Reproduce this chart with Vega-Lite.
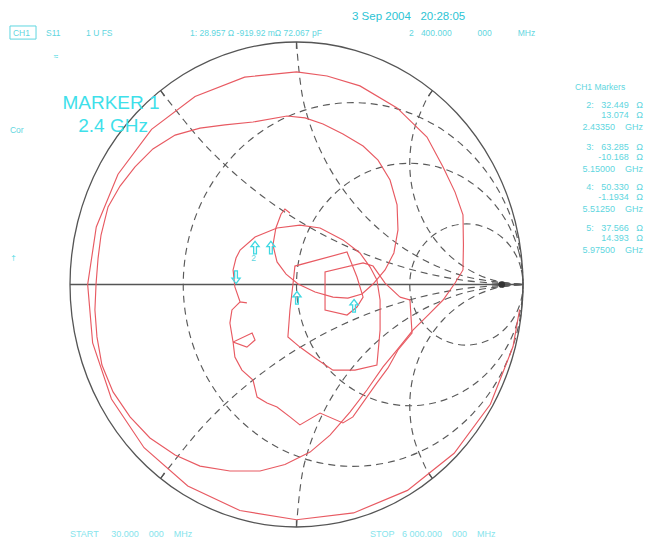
{
  "$schema": "https://vega.github.io/schema/vega-lite/v6.json",
  "width": 453,
  "height": 485,
  "autosize": {"type": "none"},
  "padding": {"left": 70, "top": 42, "right": 123, "bottom": 12},
  "background": "white",
  "config": {"view": {"stroke": null}, "font": "Liberation Sans"},
  "datasets": {
    "unit": [
      {"x": 1, "y": 0}, {"x": 0.9659, "y": 0.2588}, {"x": 0.866, "y": 0.5}, {"x": 0.7071, "y": 0.7071}, {"x": 0.5, "y": 0.866}, {"x": 0.2588, "y": 0.9659},
      {"x": 0, "y": 1}, {"x": -0.2588, "y": 0.9659}, {"x": -0.5, "y": 0.866}, {"x": -0.7071, "y": 0.7071}, {"x": -0.866, "y": 0.5}, {"x": -0.9659, "y": 0.2588},
      {"x": -1, "y": 0}, {"x": -0.9659, "y": -0.2588}, {"x": -0.866, "y": -0.5}, {"x": -0.7071, "y": -0.7071}, {"x": -0.5, "y": -0.866}, {"x": -0.2588, "y": -0.9659},
      {"x": 0, "y": -1}, {"x": 0.2588, "y": -0.9659}, {"x": 0.5, "y": -0.866}, {"x": 0.7071, "y": -0.7071}, {"x": 0.866, "y": -0.5}, {"x": 0.9659, "y": -0.2588}
    ],
    "rc": [
      {"c": "r0.33", "x": 1.0, "y": 0}, {"c": "r0.33", "x": 0.9744, "y": 0.1941}, {"c": "r0.33", "x": 0.8995, "y": 0.375}, {"c": "r0.33", "x": 0.7803, "y": 0.5303}, {"c": "r0.33", "x": 0.625, "y": 0.6495}, {"c": "r0.33", "x": 0.4441, "y": 0.7244},
      {"c": "r0.33", "x": 0.25, "y": 0.75}, {"c": "r0.33", "x": 0.0559, "y": 0.7244}, {"c": "r0.33", "x": -0.125, "y": 0.6495}, {"c": "r0.33", "x": -0.2803, "y": 0.5303}, {"c": "r0.33", "x": -0.3995, "y": 0.375}, {"c": "r0.33", "x": -0.4744, "y": 0.1941},
      {"c": "r0.33", "x": -0.5, "y": 0}, {"c": "r0.33", "x": -0.4744, "y": -0.1941}, {"c": "r0.33", "x": -0.3995, "y": -0.375}, {"c": "r0.33", "x": -0.2803, "y": -0.5303}, {"c": "r0.33", "x": -0.125, "y": -0.6495}, {"c": "r0.33", "x": 0.0559, "y": -0.7244},
      {"c": "r0.33", "x": 0.25, "y": -0.75}, {"c": "r0.33", "x": 0.4441, "y": -0.7244}, {"c": "r0.33", "x": 0.625, "y": -0.6495}, {"c": "r0.33", "x": 0.7803, "y": -0.5303}, {"c": "r0.33", "x": 0.8995, "y": -0.375}, {"c": "r0.33", "x": 0.9744, "y": -0.1941},
      {"c": "r1", "x": 1, "y": 0}, {"c": "r1", "x": 0.983, "y": 0.1294}, {"c": "r1", "x": 0.933, "y": 0.25}, {"c": "r1", "x": 0.8536, "y": 0.3536}, {"c": "r1", "x": 0.75, "y": 0.433}, {"c": "r1", "x": 0.6294, "y": 0.483},
      {"c": "r1", "x": 0.5, "y": 0.5}, {"c": "r1", "x": 0.3706, "y": 0.483}, {"c": "r1", "x": 0.25, "y": 0.433}, {"c": "r1", "x": 0.1464, "y": 0.3536}, {"c": "r1", "x": 0.067, "y": 0.25}, {"c": "r1", "x": 0.017, "y": 0.1294},
      {"c": "r1", "x": 0, "y": 0}, {"c": "r1", "x": 0.017, "y": -0.1294}, {"c": "r1", "x": 0.067, "y": -0.25}, {"c": "r1", "x": 0.1464, "y": -0.3536}, {"c": "r1", "x": 0.25, "y": -0.433}, {"c": "r1", "x": 0.3706, "y": -0.483},
      {"c": "r1", "x": 0.5, "y": -0.5}, {"c": "r1", "x": 0.6294, "y": -0.483}, {"c": "r1", "x": 0.75, "y": -0.433}, {"c": "r1", "x": 0.8536, "y": -0.3536}, {"c": "r1", "x": 0.933, "y": -0.25}, {"c": "r1", "x": 0.983, "y": -0.1294},
      {"c": "r3", "x": 1, "y": 0}, {"c": "r3", "x": 0.9915, "y": 0.0647}, {"c": "r3", "x": 0.9665, "y": 0.125}, {"c": "r3", "x": 0.9268, "y": 0.1768}, {"c": "r3", "x": 0.875, "y": 0.2165}, {"c": "r3", "x": 0.8147, "y": 0.2415},
      {"c": "r3", "x": 0.75, "y": 0.25}, {"c": "r3", "x": 0.6853, "y": 0.2415}, {"c": "r3", "x": 0.625, "y": 0.2165}, {"c": "r3", "x": 0.5732, "y": 0.1768}, {"c": "r3", "x": 0.5335, "y": 0.125}, {"c": "r3", "x": 0.5085, "y": 0.0647},
      {"c": "r3", "x": 0.5, "y": 0}, {"c": "r3", "x": 0.5085, "y": -0.0647}, {"c": "r3", "x": 0.5335, "y": -0.125}, {"c": "r3", "x": 0.5732, "y": -0.1768}, {"c": "r3", "x": 0.625, "y": -0.2165}, {"c": "r3", "x": 0.6853, "y": -0.2415},
      {"c": "r3", "x": 0.75, "y": -0.25}, {"c": "r3", "x": 0.8147, "y": -0.2415}, {"c": "r3", "x": 0.875, "y": -0.2165}, {"c": "r3", "x": 0.9268, "y": -0.1768}, {"c": "r3", "x": 0.9665, "y": -0.125}, {"c": "r3", "x": 0.9915, "y": -0.0647}
    ],
    "xa": [
      {"c": "x1", "x": 0, "y": 1}, {"c": "x1", "x": 0.0341, "y": 0.7412}, {"c": "x1", "x": 0.134, "y": 0.5}, {"c": "x1", "x": 0.2929, "y": 0.2929}, {"c": "x1", "x": 0.5, "y": 0.134}, {"c": "x1", "x": 0.7412, "y": 0.0341}, {"c": "x1", "x": 1, "y": 0},
      {"c": "x-1", "x": 0, "y": -1}, {"c": "x-1", "x": 0.0341, "y": -0.7412}, {"c": "x-1", "x": 0.134, "y": -0.5}, {"c": "x-1", "x": 0.2929, "y": -0.2929}, {"c": "x-1", "x": 0.5, "y": -0.134}, {"c": "x-1", "x": 0.7412, "y": -0.0341}, {"c": "x-1", "x": 1, "y": 0},
      {"c": "x0.5", "x": -0.6, "y": 0.8}, {"c": "x0.5", "x": -0.4142, "y": 0.5858}, {"c": "x0.5", "x": -0.2175, "y": 0.4133}, {"c": "x0.5", "x": 0, "y": 0.268}, {"c": "x0.5", "x": 0.2346, "y": 0.1522}, {"c": "x0.5", "x": 0.4824, "y": 0.0681}, {"c": "x0.5", "x": 0.739, "y": 0.0171}, {"c": "x0.5", "x": 1, "y": 0},
      {"c": "x-0.5", "x": -0.6, "y": -0.8}, {"c": "x-0.5", "x": -0.4142, "y": -0.5858}, {"c": "x-0.5", "x": -0.2175, "y": -0.4133}, {"c": "x-0.5", "x": 0, "y": -0.268}, {"c": "x-0.5", "x": 0.2346, "y": -0.1522}, {"c": "x-0.5", "x": 0.4824, "y": -0.0681}, {"c": "x-0.5", "x": 0.739, "y": -0.0171}, {"c": "x-0.5", "x": 1, "y": 0},
      {"c": "x2", "x": 0.6, "y": 0.8}, {"c": "x2", "x": 0.567, "y": 0.75}, {"c": "x2", "x": 0.517, "y": 0.6294}, {"c": "x2", "x": 0.5, "y": 0.5}, {"c": "x2", "x": 0.517, "y": 0.3706}, {"c": "x2", "x": 0.567, "y": 0.25}, {"c": "x2", "x": 0.6464, "y": 0.1464}, {"c": "x2", "x": 0.75, "y": 0.067}, {"c": "x2", "x": 0.8706, "y": 0.017}, {"c": "x2", "x": 1, "y": 0},
      {"c": "x-2", "x": 0.6, "y": -0.8}, {"c": "x-2", "x": 0.567, "y": -0.75}, {"c": "x-2", "x": 0.517, "y": -0.6294}, {"c": "x-2", "x": 0.5, "y": -0.5}, {"c": "x-2", "x": 0.517, "y": -0.3706}, {"c": "x-2", "x": 0.567, "y": -0.25}, {"c": "x-2", "x": 0.6464, "y": -0.1464}, {"c": "x-2", "x": 0.75, "y": -0.067}, {"c": "x-2", "x": 0.8706, "y": -0.017}, {"c": "x-2", "x": 1, "y": 0}
    ],
    "tk": [
      {"x": 0, "y": 1, "x2": 0, "y2": 0.972}, {"x": 0, "y": -1, "x2": 0, "y2": -0.972},
      {"x": -0.6, "y": 0.8, "x2": -0.583, "y2": 0.777}, {"x": -0.6, "y": -0.8, "x2": -0.583, "y2": -0.777},
      {"x": 0.6, "y": 0.8, "x2": 0.583, "y2": 0.777}, {"x": 0.6, "y": -0.8, "x2": 0.583, "y2": -0.777}
    ],
    "ax": [{"x": -1, "y": 0, "x2": 1, "y2": 0}],
    "tr": [
      {"s": "A", "x": 0.985, "y": -0.103}, {"s": "A", "x": 0.956, "y": -0.256}, {"s": "A", "x": 0.856, "y": -0.494}, {"s": "A", "x": 0.696, "y": -0.696}, {"s": "A", "x": 0.49, "y": -0.849},
      {"s": "A", "x": 0.252, "y": -0.942}, {"s": "A", "x": 0, "y": -0.97}, {"s": "A", "x": -0.25, "y": -0.932}, {"s": "A", "x": -0.48, "y": -0.831}, {"s": "A", "x": -0.673, "y": -0.673},
      {"s": "A", "x": -0.817, "y": -0.472}, {"s": "A", "x": -0.9, "y": -0.241}, {"s": "A", "x": -0.922, "y": 0}, {"s": "A", "x": -0.884, "y": 0.237}, {"s": "A", "x": -0.788, "y": 0.455},
      {"s": "A", "x": -0.64, "y": 0.64}, {"s": "A", "x": -0.448, "y": 0.775}, {"s": "A", "x": -0.229, "y": 0.855}, {"s": "A", "x": 0, "y": 0.877}, {"s": "A", "x": 0.135, "y": 0.86},
      {"s": "A", "x": 0.28, "y": 0.819}, {"s": "A", "x": 0.444, "y": 0.728}, {"s": "A", "x": 0.576, "y": 0.608}, {"s": "A", "x": 0.647, "y": 0.485}, {"s": "A", "x": 0.7, "y": 0.381},
      {"s": "A", "x": 0.735, "y": 0.287}, {"s": "A", "x": 0.737, "y": 0.163}, {"s": "A", "x": 0.735, "y": 0.06}, {"s": "A", "x": 0.7, "y": 0.006}, {"s": "A", "x": 0.647, "y": -0.064},
      {"s": "A", "x": 0.581, "y": -0.126}, {"s": "A", "x": 0.514, "y": -0.188}, {"s": "A", "x": 0.444, "y": -0.27}, {"s": "A", "x": 0.382, "y": -0.34}, {"s": "A", "x": 0.311, "y": -0.435},
      {"s": "A", "x": 0.236, "y": -0.526}, {"s": "A", "x": 0.148, "y": -0.621}, {"s": "A", "x": 0.06, "y": -0.691}, {"s": "A", "x": -0.051, "y": -0.742}, {"s": "A", "x": -0.161, "y": -0.769},
      {"s": "A", "x": -0.294, "y": -0.769}, {"s": "A", "x": -0.426, "y": -0.749}, {"s": "A", "x": -0.536, "y": -0.703}, {"s": "A", "x": -0.647, "y": -0.633}, {"s": "A", "x": -0.735, "y": -0.546},
      {"s": "A", "x": -0.81, "y": -0.443}, {"s": "A", "x": -0.859, "y": -0.332}, {"s": "A", "x": -0.881, "y": -0.216}, {"s": "A", "x": -0.89, "y": -0.105}, {"s": "A", "x": -0.885, "y": 0.002},
      {"s": "A", "x": -0.876, "y": 0.109}, {"s": "A", "x": -0.863, "y": 0.204}, {"s": "A", "x": -0.832, "y": 0.32}, {"s": "A", "x": -0.779, "y": 0.406}, {"s": "A", "x": -0.713, "y": 0.485},
      {"s": "A", "x": -0.634, "y": 0.559}, {"s": "A", "x": -0.536, "y": 0.616}, {"s": "A", "x": -0.426, "y": 0.645}, {"s": "A", "x": -0.316, "y": 0.658}, {"s": "A", "x": -0.192, "y": 0.67},
      {"s": "A", "x": -0.042, "y": 0.695}, {"s": "A", "x": 0.038, "y": 0.687}, {"s": "A", "x": 0.117, "y": 0.662}, {"s": "A", "x": 0.205, "y": 0.621}, {"s": "A", "x": 0.294, "y": 0.571},
      {"s": "A", "x": 0.36, "y": 0.513}, {"s": "A", "x": 0.413, "y": 0.431}, {"s": "A", "x": 0.444, "y": 0.328}, {"s": "A", "x": 0.448, "y": 0.225}, {"s": "A", "x": 0.43, "y": 0.13},
      {"s": "A", "x": 0.391, "y": 0.06}, {"s": "A", "x": 0.338, "y": 0.002}, {"s": "A", "x": 0.289, "y": -0.039}, {"s": "A", "x": 0.227, "y": -0.056}, {"s": "A", "x": 0.161, "y": -0.052},
      {"s": "A", "x": 0.082, "y": -0.031}, {"s": "A", "x": 0.007, "y": 0.002}, {"s": "A", "x": -0.046, "y": 0.043}, {"s": "A", "x": -0.086, "y": 0.093}, {"s": "A", "x": -0.104, "y": 0.163},
      {"s": "A", "x": -0.091, "y": 0.233}, {"s": "A", "x": -0.068, "y": 0.291}, {"s": "A", "x": -0.051, "y": 0.311}, {"s": "A", "x": -0.029, "y": 0.295},
      {"s": "B", "x": 0.457, "y": -0.052}, {"s": "B", "x": 0.501, "y": -0.064}, {"s": "B", "x": 0.51, "y": -0.2}, {"s": "B", "x": 0.448, "y": -0.27}, {"s": "B", "x": 0.404, "y": -0.344},
      {"s": "B", "x": 0.355, "y": -0.406}, {"s": "B", "x": 0.249, "y": -0.546}, {"s": "B", "x": 0.205, "y": -0.571}, {"s": "B", "x": 0.104, "y": -0.53}, {"s": "B", "x": 0.015, "y": -0.579},
      {"s": "B", "x": -0.029, "y": -0.546}, {"s": "B", "x": -0.086, "y": -0.505}, {"s": "B", "x": -0.13, "y": -0.489}, {"s": "B", "x": -0.174, "y": -0.464}, {"s": "B", "x": -0.192, "y": -0.394},
      {"s": "B", "x": -0.241, "y": -0.353}, {"s": "B", "x": -0.272, "y": -0.299}, {"s": "B", "x": -0.28, "y": -0.237}, {"s": "B", "x": -0.196, "y": -0.2}, {"s": "B", "x": -0.183, "y": -0.229},
      {"s": "B", "x": -0.219, "y": -0.258}, {"s": "B", "x": -0.28, "y": -0.237}, {"s": "B", "x": -0.294, "y": -0.159}, {"s": "B", "x": -0.285, "y": -0.105}, {"s": "B", "x": -0.249, "y": -0.072},
      {"s": "B", "x": -0.219, "y": -0.076}, {"s": "B", "x": -0.249, "y": -0.072}, {"s": "B", "x": -0.272, "y": -0.01}, {"s": "B", "x": -0.28, "y": 0.06}, {"s": "B", "x": -0.267, "y": 0.109},
      {"s": "B", "x": -0.249, "y": 0.142}, {"s": "B", "x": -0.183, "y": 0.196}, {"s": "B", "x": -0.086, "y": 0.233}, {"s": "B", "x": 0.015, "y": 0.245}, {"s": "B", "x": 0.104, "y": 0.233},
      {"s": "B", "x": 0.205, "y": 0.184}, {"s": "B", "x": 0.28, "y": 0.13}, {"s": "B", "x": 0.325, "y": 0.072}, {"s": "B", "x": 0.355, "y": 0.019}, {"s": "B", "x": 0.369, "y": -0.064},
      {"s": "B", "x": 0.369, "y": -0.188}, {"s": "B", "x": 0.355, "y": -0.332}, {"s": "B", "x": 0.258, "y": -0.353}, {"s": "B", "x": 0.161, "y": -0.353}, {"s": "B", "x": 0.082, "y": -0.303},
      {"s": "B", "x": 0.015, "y": -0.258}, {"s": "B", "x": -0.038, "y": -0.216}, {"s": "B", "x": -0.029, "y": -0.105}, {"s": "B", "x": -0.015, "y": 0.006}, {"s": "B", "x": -0.007, "y": 0.076},
      {"s": "B", "x": 0.223, "y": 0.134}, {"s": "B", "x": 0.267, "y": 0.031}, {"s": "B", "x": 0.294, "y": -0.052}, {"s": "B", "x": 0.267, "y": -0.093}, {"s": "B", "x": 0.223, "y": -0.126},
      {"s": "B", "x": 0.126, "y": -0.105}, {"s": "B", "x": 0.126, "y": 0.052}, {"s": "B", "x": 0.294, "y": 0.089}, {"s": "B", "x": 0.338, "y": 0.076}, {"s": "B", "x": 0.391, "y": 0.006},
      {"s": "B", "x": 0.457, "y": -0.052}
    ],
    "mu": [
      {"m": "2", "x": -0.183, "y": 0.152}, {"m": "5", "x": -0.113, "y": 0.152}, {"m": "4", "x": 0.002, "y": -0.055}, {"m": "3", "x": 0.254, "y": -0.088}
    ],
    "md": [{"m": "1", "x": -0.267, "y": 0.03}],
    "dot": [{"x": 0.906, "y": 0}],
    "box": [{"x": -1.265, "x2": -1.15, "y": 1.066, "y2": 1.012}],
    "tl": [
      {"x": -1.252, "y": 1.039, "t": "CH1"},
      {"x": -1.106, "y": 1.039, "t": "S11"},
      {"x": -0.929, "y": 1.039, "t": "1 U FS"},
      {"x": -0.47, "y": 1.039, "t": "1: 28.957 Ω -919.92 mΩ 72.067 pF"},
      {"x": 0.497, "y": 1.039, "t": "2\u00a0\u00a0\u00a0400.000\u00a0\u00a0\u00a0\u00a0\u00a0\u00a0\u00a0\u00a0\u00a0\u00a0\u00a0000\u00a0\u00a0\u00a0\u00a0\u00a0\u00a0\u00a0\u00a0\u00a0\u00a0\u00a0MHz"},
      {"x": 1.23, "y": 0.814, "t": "CH1 Markers"},
      {"x": -1.265, "y": 0.637, "t": "Cor"},
      {"x": -0.2, "y": 0.11, "t": "2"}
    ],
    "bot": [
      {"x": -1.0, "y": -1.027, "t": "START\u00a0\u00a0\u00a0\u00a0\u00a030.000\u00a0\u00a0\u00a0\u00a0000\u00a0\u00a0\u00a0\u00a0MHz"},
      {"x": 0.325, "y": -1.027, "t": "STOP\u00a0\u00a0\u00a06\u00a0000.000\u00a0\u00a0\u00a0\u00a0000\u00a0\u00a0\u00a0\u00a0MHz"}
    ],
    "tiny": [
      {"x": -1.062, "y": 0.938, "t": "≈"},
      {"x": -1.25, "y": 0.109, "t": "†"}
    ],
    "tr2": [
      {"x": 1.53, "y": 0.74, "t": "2:\u00a0\u00a0\u00a032.449\u00a0\u00a0\u00a0Ω"},
      {"x": 1.53, "y": 0.699, "t": "13.074\u00a0\u00a0\u00a0Ω"},
      {"x": 1.53, "y": 0.649, "t": "2.43350\u00a0\u00a0\u00a0\u00a0GHz"},
      {"x": 1.53, "y": 0.567, "t": "3:\u00a0\u00a0\u00a063.285\u00a0\u00a0\u00a0Ω"},
      {"x": 1.53, "y": 0.526, "t": "-10.168\u00a0\u00a0\u00a0Ω"},
      {"x": 1.53, "y": 0.476, "t": "5.15000\u00a0\u00a0\u00a0\u00a0GHz"},
      {"x": 1.53, "y": 0.402, "t": "4:\u00a0\u00a0\u00a050.330\u00a0\u00a0\u00a0Ω"},
      {"x": 1.53, "y": 0.361, "t": "-1.1934\u00a0\u00a0\u00a0Ω"},
      {"x": 1.53, "y": 0.311, "t": "5.51250\u00a0\u00a0\u00a0\u00a0GHz"},
      {"x": 1.53, "y": 0.233, "t": "5:\u00a0\u00a0\u00a037.566\u00a0\u00a0\u00a0Ω"},
      {"x": 1.53, "y": 0.192, "t": "14.393\u00a0\u00a0\u00a0Ω"},
      {"x": 1.53, "y": 0.143, "t": "5.97500\u00a0\u00a0\u00a0\u00a0GHz"}
    ],
    "big": [
      {"x": -0.819, "y": 0.748, "t": "MARKER 1"},
      {"x": -0.81, "y": 0.653, "t": "2.4 GHz"}
    ],
    "date": [{"x": 0.245, "y": 1.103, "t": "3 Sep 2004\u00a0\u00a0\u00a020:28:05"}]
  },
  "encoding": {
    "x": {"field": "x", "type": "quantitative", "scale": {"domain": [-1, 1], "nice": false, "zero": false}, "axis": null},
    "y": {"field": "y", "type": "quantitative", "scale": {"domain": [-1, 1], "nice": false, "zero": false}, "axis": null}
  },
  "layer": [
    {
      "data": {"name": "rc"},
      "transform": [{"window": [{"op": "row_number", "as": "i"}]}],
      "mark": {"type": "line", "interpolate": "cardinal-closed", "stroke": "#5a5a5a", "strokeWidth": 1.15, "strokeDash": [7, 5]},
      "encoding": {"detail": {"field": "c"}, "order": {"field": "i"}}
    },
    {
      "data": {"name": "xa"},
      "transform": [{"window": [{"op": "row_number", "as": "i"}]}],
      "mark": {"type": "line", "interpolate": "cardinal", "stroke": "#5a5a5a", "strokeWidth": 1.15, "strokeDash": [7, 5]},
      "encoding": {"detail": {"field": "c"}, "order": {"field": "i"}}
    },
    {
      "data": {"name": "unit"},
      "transform": [{"window": [{"op": "row_number", "as": "i"}]}],
      "mark": {"type": "line", "interpolate": "cardinal-closed", "stroke": "#555555", "strokeWidth": 1.3},
      "encoding": {"order": {"field": "i"}}
    },
    {
      "data": {"name": "ax"},
      "mark": {"type": "rule", "stroke": "#555555", "strokeWidth": 1.5},
      "encoding": {"x2": {"field": "x2"}, "y2": {"field": "y2"}}
    },
    {
      "data": {"name": "tk"},
      "mark": {"type": "rule", "stroke": "#555555", "strokeWidth": 1.3},
      "encoding": {"x2": {"field": "x2"}, "y2": {"field": "y2"}}
    },
    {
      "data": {"name": "dot"},
      "mark": {"type": "point", "shape": "circle", "filled": true, "color": "#333333", "size": 45, "opacity": 1}
    },
    {
      "data": {"name": "tr"},
      "transform": [{"window": [{"op": "row_number", "as": "i"}]}],
      "mark": {"type": "line", "stroke": "#e85a62", "strokeWidth": 1.15},
      "encoding": {"detail": {"field": "s"}, "order": {"field": "i"}}
    },
    {
      "data": {"name": "mu"},
      "mark": {"type": "point", "shape": "M0,-1L0.65,-0.15L0.22,-0.15L0.22,1L-0.22,1L-0.22,-0.15L-0.65,-0.15Z", "filled": false, "stroke": "#3fd8e2", "strokeWidth": 1.3, "size": 160, "opacity": 1}
    },
    {
      "data": {"name": "md"},
      "mark": {"type": "point", "shape": "M0,1L0.65,0.15L0.22,0.15L0.22,-1L-0.22,-1L-0.22,0.15L-0.65,0.15Z", "filled": false, "stroke": "#3fd8e2", "strokeWidth": 1.3, "size": 160, "opacity": 1}
    },
    {
      "data": {"name": "box"},
      "mark": {"type": "rect", "fill": null, "stroke": "#5fd6e0", "strokeWidth": 1},
      "encoding": {"x2": {"field": "x2"}, "y2": {"field": "y2"}}
    },
    {
      "data": {"name": "tl"},
      "mark": {"type": "text", "align": "left", "baseline": "middle", "fontSize": 8.5, "color": "#5fd6e0", "font": "Liberation Sans"},
      "encoding": {"text": {"field": "t"}}
    },
    {
      "data": {"name": "bot"},
      "mark": {"type": "text", "align": "left", "baseline": "middle", "fontSize": 9, "color": "#86e4ec", "font": "Liberation Sans"},
      "encoding": {"text": {"field": "t"}}
    },
    {
      "data": {"name": "tiny"},
      "mark": {"type": "text", "align": "center", "baseline": "middle", "fontSize": 8, "color": "#3fd8e2", "font": "Liberation Sans"},
      "encoding": {"text": {"field": "t"}}
    },
    {
      "data": {"name": "tr2"},
      "mark": {"type": "text", "align": "right", "baseline": "middle", "fontSize": 9, "color": "#5fd6e0", "font": "Liberation Sans"},
      "encoding": {"text": {"field": "t"}}
    },
    {
      "data": {"name": "big"},
      "mark": {"type": "text", "align": "center", "baseline": "middle", "fontSize": 19, "color": "#3ee0ea", "font": "Liberation Sans"},
      "encoding": {"text": {"field": "t"}}
    },
    {
      "data": {"name": "date"},
      "mark": {"type": "text", "align": "left", "baseline": "middle", "fontSize": 11.5, "color": "#2cc4d4", "font": "Liberation Sans"},
      "encoding": {"text": {"field": "t"}}
    }
  ]
}
